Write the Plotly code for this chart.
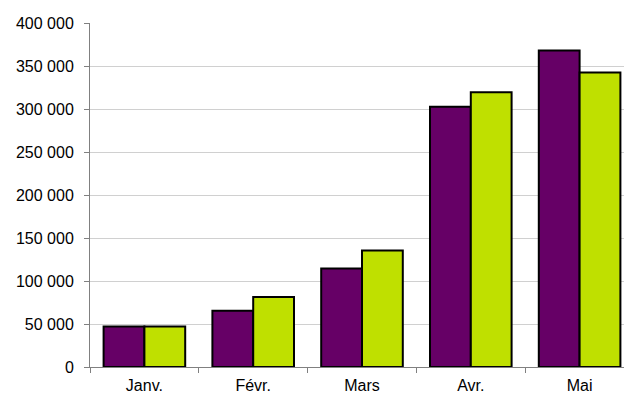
import plotly.graph_objects as go

months = ["Janv.", "Févr.", "Mars", "Avr.", "Mai"]
serie_1 = [47000, 65500, 114500, 302500, 368000]
serie_2 = [47000, 81500, 135500, 319500, 342500]
y_ticks = [0, 50000, 100000, 150000, 200000, 250000, 300000, 350000, 400000]
y_tick_labels = ["0", "50 000", "100 000", "150 000", "200 000",
                 "250 000", "300 000", "350 000", "400 000"]

bar_line = dict(color="black", width=2)

fig = go.Figure()
fig.add_trace(go.Bar(x=months, y=serie_1, marker=dict(color="#660066", line=bar_line)))
fig.add_trace(go.Bar(x=months, y=serie_2, marker=dict(color="#BFE000", line=bar_line)))

# the page body adds an 8px offset; the plot area runs slightly past the right edge
fig.update_layout(
    width=626, height=393,
    margin=dict(l=82, r=0, t=15, b=34, autoexpand=False),
    paper_bgcolor="white", plot_bgcolor="white",
    barmode="group", bargap=0.25, bargroupgap=0,
    showlegend=False,
    font=dict(family="Liberation Sans, Arial, sans-serif", size=16, color="black"),
)
fig.update_xaxes(
    showline=True, linecolor="#808080", linewidth=1,
    ticks="outside", tickson="boundaries", ticklen=5, tickcolor="#808080",
    ticklabelstandoff=4, showgrid=False,
)
fig.update_yaxes(
    range=[0, 400000], tickvals=y_ticks, ticktext=y_tick_labels,
    showline=True, linecolor="#808080", linewidth=1,
    ticks="outside", ticklen=5, tickcolor="#808080",
    ticklabelstandoff=7,
    showgrid=True, gridcolor="#D0D0D0", gridwidth=1, zeroline=False,
)

fig.write_html("out.html")
